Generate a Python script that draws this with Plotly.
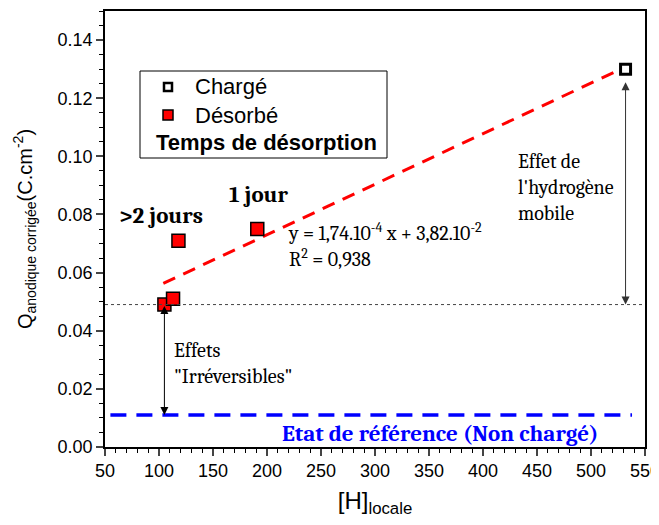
import plotly.graph_objects as go

# ---- data ----
charge_x = [532]
charge_y = [0.130]
desorbe_x = [105, 113, 118, 191]
desorbe_y = [0.049, 0.051, 0.071, 0.075]
fit_slope = 1.74e-4
fit_intercept = 3.82e-2
fit_x = [104, 530]
fit_y = [fit_slope * v + fit_intercept for v in fit_x]
ref_level = 0.011          # Etat de référence (Non chargé)
irrev_level = 0.049        # niveau après désorption
ref_x = [55, 538]
x_ticks = [50, 100, 150, 200, 250, 300, 350, 400, 450, 500, 550]
y_ticks = [0.00, 0.02, 0.04, 0.06, 0.08, 0.10, 0.12, 0.14]

SANS = "Arial, Liberation Sans, sans-serif"
SERIF = "Cambria, Liberation Serif, serif"

fig = go.Figure()

# fit line
fig.add_trace(go.Scatter(x=fit_x, y=fit_y, mode="lines",
                         line=dict(color="#FF0000", width=3, dash="13px,9px"),
                         showlegend=False, hoverinfo="skip"))
# reference level
fig.add_trace(go.Scatter(x=ref_x, y=[ref_level, ref_level], mode="lines",
                         line=dict(color="#0000FF", width=3.5, dash="16px,10px"),
                         showlegend=False, hoverinfo="skip"))
# desorbed points
fig.add_trace(go.Scatter(x=desorbe_x, y=desorbe_y, mode="markers", name="Désorbé",
                         marker=dict(symbol="square", size=13, color="#FF0000",
                                     line=dict(color="black", width=1.5)),
                         showlegend=False))
# charged point
fig.add_trace(go.Scatter(x=charge_x, y=charge_y, mode="markers", name="Chargé",
                         marker=dict(symbol="square", size=10, color="white",
                                     line=dict(color="black", width=3)),
                         showlegend=False))

shapes = []
# dotted level line
shapes.append(dict(type="line", xref="x", yref="y", x0=50, x1=550,
                   y0=irrev_level, y1=irrev_level,
                   line=dict(color="#444444", width=1, dash="dot")))

# manual legend box (paper coords; page pixels -> plot fraction)
def px2paper_x(px):
    return (px - 105) / 540.0

def px2paper_y(py):
    return (447 - py) / 436.0

shapes.append(dict(type="rect", xref="paper", yref="paper",
                   x0=px2paper_x(140), x1=px2paper_x(387),
                   y0=px2paper_y(158), y1=px2paper_y(71),
                   line=dict(color="black", width=1), fillcolor="white", layer="below"))
# legend markers
shapes.append(dict(type="rect", xref="paper", yref="paper",
                   x0=px2paper_x(164), x1=px2paper_x(172),
                   y0=px2paper_y(91), y1=px2paper_y(83),
                   line=dict(color="black", width=2.5), fillcolor="white"))
shapes.append(dict(type="rect", xref="paper", yref="paper",
                   x0=px2paper_x(163), x1=px2paper_x(173),
                   y0=px2paper_y(120), y1=px2paper_y(110),
                   line=dict(color="black", width=1.5), fillcolor="#FF0000"))

annotations = []
annotations.append(dict(text="Chargé", xref="paper", yref="paper",
                        x=px2paper_x(193), y=px2paper_y(87), xanchor="left", yanchor="middle",
                        showarrow=False, font=dict(family=SANS, size=22, color="black")))
annotations.append(dict(text="Désorbé", xref="paper", yref="paper",
                        x=px2paper_x(193), y=px2paper_y(115), xanchor="left", yanchor="middle",
                        showarrow=False, font=dict(family=SANS, size=22, color="black")))
annotations.append(dict(text="<b>Temps de désorption</b>", xref="paper", yref="paper",
                        x=px2paper_x(154), y=px2paper_y(143), xanchor="left", yanchor="middle",
                        showarrow=False, font=dict(family=SANS, size=22, color="black")))

annotations.append(dict(text="<b>>2 jours</b>", x=102, y=0.0795, showarrow=False,
                        font=dict(family=SERIF, size=23, color="black")))
annotations.append(dict(text="<b>1 jour</b>", x=193, y=0.0867, showarrow=False,
                        font=dict(family=SERIF, size=23, color="black")))
annotations.append(dict(text="y = 1,74.10<sup>-4</sup> x + 3,82.10<sup>-2</sup><br>R<sup>2</sup> = 0,938",
                        x=218, y=0.0695, xanchor="left", yanchor="middle", align="left",
                        showarrow=False, font=dict(family=SERIF, size=20, color="black")))
annotations.append(dict(text="Effets<br>\"Irréversibles\"", x=112, y=0.0287,
                        xanchor="left", yanchor="middle", align="left", showarrow=False,
                        font=dict(family=SERIF, size=20, color="black")))
annotations.append(dict(text="Effet de<br>l'hydrogène<br>mobile", x=431, y=0.0893,
                        xanchor="left", yanchor="middle", align="left", showarrow=False,
                        font=dict(family=SERIF, size=20, color="black")))
annotations.append(dict(text="<b>Etat de référence (Non chargé)</b>", x=360, y=0.0048,
                        showarrow=False, font=dict(family=SERIF, size=23, color="#0000FF")))

# arrows
annotations.append(dict(text="", x=desorbe_x[0], y=ref_level, ax=desorbe_x[0], ay=irrev_level,
                        xref="x", yref="y", axref="x", ayref="y", showarrow=True,
                        arrowhead=2, startarrowhead=2, arrowside="end+start",
                        arrowsize=1.6, arrowwidth=1, arrowcolor="black", standoff=0, startstandoff=0))
annotations.append(dict(text="", x=charge_x[0], y=irrev_level, ax=charge_x[0], ay=0.126,
                        xref="x", yref="y", axref="x", ayref="y", showarrow=True,
                        arrowhead=2, startarrowhead=2, arrowside="end+start",
                        arrowsize=1.6, arrowwidth=1, arrowcolor="#333333", standoff=0, startstandoff=0))

# the page body adds an 8px margin, so the figure is drawn 8px smaller and offset
fig.update_layout(
    width=651, height=517,
    margin=dict(l=97, r=14, t=3, b=78),
    paper_bgcolor="white", plot_bgcolor="white",
    shapes=shapes, annotations=annotations,
    font=dict(family=SANS, size=18, color="black"),
    xaxis=dict(range=[50, 550], tickvals=x_ticks, ticks="outside", ticklen=7, tickwidth=1.5,
               showline=True, linecolor="black", linewidth=1.5, mirror=True,
               showgrid=False, zeroline=False, automargin=False, ticklabeloverflow="allow",
               minor=dict(dtick=10, ticks="outside", ticklen=4, tickwidth=1, tickcolor="black"),
               tickfont=dict(family=SANS, size=18),
               title=dict(text="[H]<sub>locale</sub>", font=dict(family=SANS, size=24), standoff=12)),
    yaxis=dict(range=[0, 0.15], tickvals=y_ticks, tickformat=".2f", ticks="outside", ticklen=7,
               tickwidth=1.5, showline=True, linecolor="black", linewidth=1.5, mirror=True,
               showgrid=False, zeroline=False, automargin=False, ticklabeloverflow="allow",
               minor=dict(dtick=0.005, ticks="outside", ticklen=4, tickwidth=1, tickcolor="black"),
               tickfont=dict(family=SANS, size=18),
               title=dict(text="Q<sub>anodique corrigée</sub>(C.cm<sup>-2</sup>)",
                          font=dict(family=SANS, size=20), standoff=20)),
)

fig.write_html("out.html")
